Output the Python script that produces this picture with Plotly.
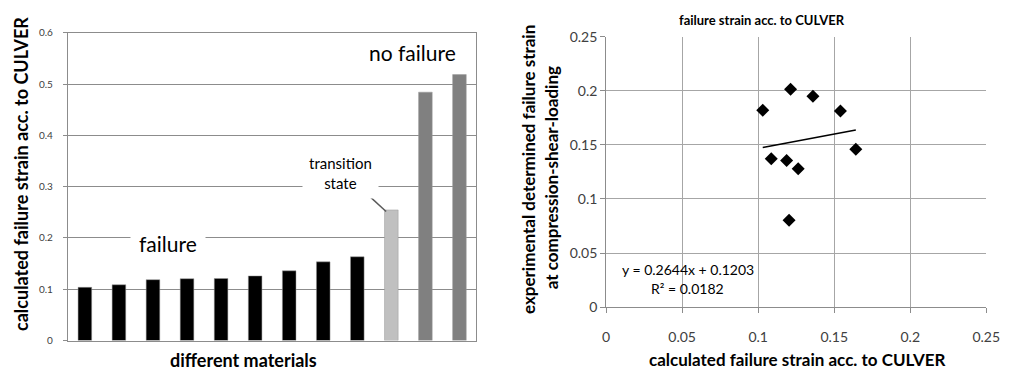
import plotly.graph_objects as go

# ---------- data ----------
materials = [f"m{i}" for i in range(1, 13)]
bar_values = [0.1038, 0.1088, 0.1187, 0.1206, 0.1210, 0.1260, 0.1360,
              0.1535, 0.1634, 0.2547, 0.4844, 0.5187]
bar_colors = ["#000000"] * 9 + ["#c0c0c0"] + ["#808080"] * 2

calc_strain = [0.1030, 0.1213, 0.1360, 0.1541, 0.1642, 0.1086, 0.1187, 0.1263, 0.1203]
exp_strain = [0.1819, 0.2014, 0.1949, 0.1813, 0.1459, 0.1371, 0.1356, 0.1279, 0.0802]

trend_slope = 0.2644
trend_intercept = 0.1203
left_yticks = [0, 0.1, 0.2, 0.3, 0.4, 0.5, 0.6]
right_ticks = [0, 0.05, 0.1, 0.15, 0.2, 0.25]

FONT = "Lato"
W, H = 1015, 382

fig = go.Figure()

fig.add_trace(go.Bar(
    x=materials, y=bar_values, marker=dict(color=bar_colors, line=dict(color="#9a9a9a", width=0.5)),
    xaxis="x", yaxis="y", showlegend=False,
))

fig.add_trace(go.Scatter(
    x=calc_strain, y=exp_strain, mode="markers",
    marker=dict(symbol="diamond", color="black", size=10),
    xaxis="x2", yaxis="y2", showlegend=False,
))

xmin, xmax = min(calc_strain), max(calc_strain)
fig.add_trace(go.Scatter(
    x=[xmin, xmax], y=[trend_slope * xmin + trend_intercept, trend_slope * xmax + trend_intercept],
    mode="lines", line=dict(color="black", width=1.5),
    xaxis="x2", yaxis="y2", showlegend=False,
))

def px(x):
    return x / W

def py(y):
    return 1 - y / H

tick_font_small = dict(family=FONT, size=10, color="#404040")
tick_font = dict(family=FONT, size=14, color="#404040")

fig.update_layout(
    width=W, height=H,
    margin=dict(l=0, r=0, t=0, b=0),
    paper_bgcolor="white", plot_bgcolor="white",
    bargap=0.6,
    font=dict(family=FONT),
    xaxis=dict(domain=[px(65), px(481)], range=[-0.5, 11.5], showticklabels=False,
               showgrid=False, showline=True, linecolor="#8c8c8c", mirror=True, ticks="",
               zeroline=False),
    yaxis=dict(domain=[py(347), py(25)], range=[0, 0.6], tickvals=left_yticks,
               ticktext=["0", "0.1", "0.2", "0.3", "0.4", "0.5", "0.6"],
               tickfont=tick_font_small, showgrid=True, gridcolor="#8c8c8c", gridwidth=1,
               showline=True, linecolor="#8c8c8c", mirror=True, ticks="outside", ticklen=4,
               tickcolor="#8c8c8c", zeroline=False, ticklabelstandoff=8),
    xaxis2=dict(domain=[px(613), px(1000)], range=[0, 0.25], tickvals=right_ticks,
                ticktext=["0", "0.05", "0.1", "0.15", "0.2", "0.25"],
                tickfont=tick_font, showgrid=True, gridcolor="#a6a6a6",
                showline=True, linecolor="#8c8c8c", ticks="outside", ticklen=5,
                tickcolor="#8c8c8c", zeroline=False, anchor="y2", ticklabelstandoff=12),
    yaxis2=dict(domain=[py(312), py(29)], range=[0, 0.25], tickvals=right_ticks,
                ticktext=["0", "0.05", "0.1", "0.15", "0.2", "0.25"],
                tickfont=tick_font, showgrid=True, gridcolor="#a6a6a6",
                showline=True, linecolor="#8c8c8c", ticks="outside", ticklen=5,
                tickcolor="#8c8c8c", zeroline=False, anchor="x2"),
)

ann = []
def add(text, x, y, size, bold=False, angle=0, bg=None, color="black", pad=3):
    d = dict(text=f"<b>{text}</b>" if bold else text, x=px(x), y=py(y), xref="paper", yref="paper",
             showarrow=False, xanchor="center", yanchor="middle", textangle=angle,
             font=dict(family=FONT, size=size, color=color))
    if bg:
        d.update(bgcolor=bg, borderpad=pad)
    ann.append(d)

add("calculated failure strain acc. to CULVER", 18, 173, 18, bold=True, angle=-90)
add("different materials", 244, 367, 18, bold=True)
add("failure", 167, 245, 21, bg="white", pad=8)
add("no failure", 416, 46, 21, bg="white")
add("transition<br>state", 343, 172, 15, bg="white", pad=6)
add("failure strain acc. to CULVER", 772, 12, 13, bold=True)
add("calculated failure strain acc. to CULVER", 808, 367, 17, bold=True)
add("experimental determined failure strain", 534, 168, 17, bold=True, angle=-90)
add("at compression-shear-loading", 557, 177, 17, bold=True, angle=-90)
add("y = 0.2644x + 0.1203", 696, 273, 14)
add("R² = 0.0182", 696, 293, 14)

fig.update_layout(annotations=ann)

fig.add_shape(type="line", xref="paper", yref="paper",
              x0=px(370), y0=py(194), x1=px(389), y1=py(212),
              line=dict(color="#595959", width=1.5))

fig.write_html("out.html")
